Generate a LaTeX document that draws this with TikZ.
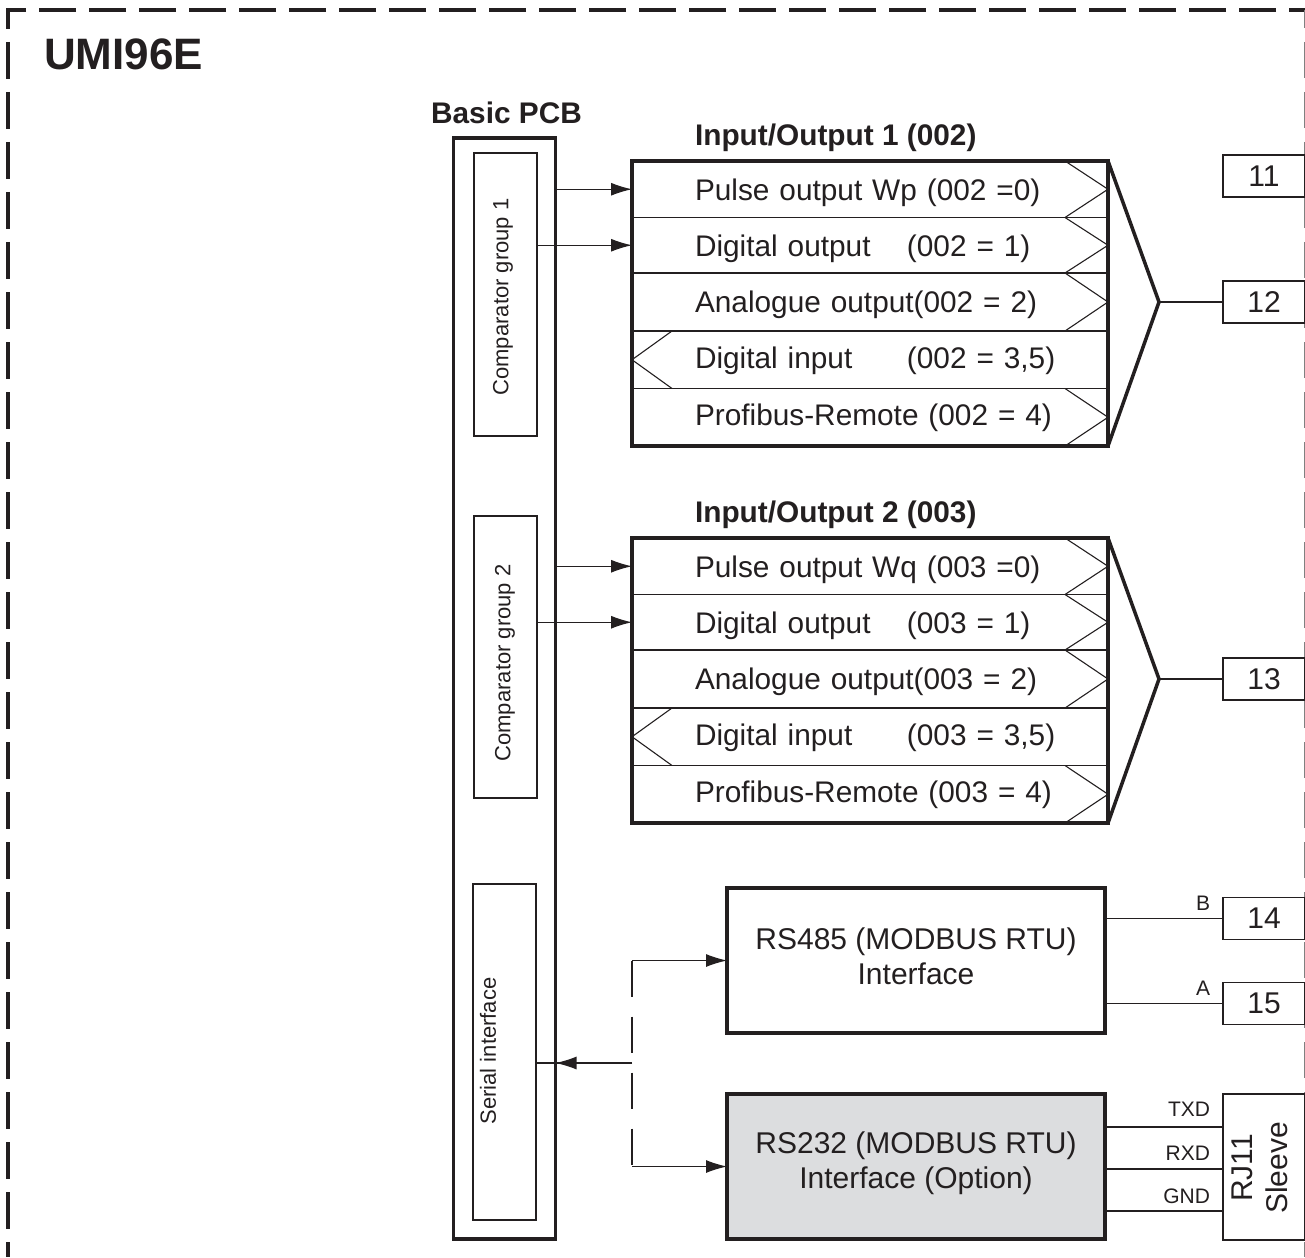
\documentclass[tikz,border=0pt]{standalone}
\usepackage{fontspec}
\setmainfont{Liberation Sans}
\usetikzlibrary{arrows.meta,positioning}
\definecolor{ink}{HTML}{231F20}
\definecolor{optgray}{HTML}{DCDDDF}
\newcommand{\rowtxt}[2]{\hspace*{63pt}\makebox[212pt][l]{#1}#2}
\begin{document}
\begin{tikzpicture}[x=1pt,y=-1pt,>={Latex[length=21pt,width=13pt]},node distance=0pt,color=ink,text=ink,
every node/.style={outer sep=0pt},
big/.style={font=\fontsize{30}{35}\selectfont},
small/.style={font=\fontsize{22}{26}\selectfont},
heavy/.style={line width=3.5pt},
thinline/.style={line width=1.1pt},
rowbox/.style={draw,thinline,font=\fontsize{29.8}{35}\selectfont,align=left,text width=476pt,inner xsep=0pt,inner ysep=0pt,anchor=north},
inbox/.style={draw,thinline,small,minimum width=63pt},
ifbox/.style={draw,heavy,big,align=center,minimum width=378pt,minimum height=145pt},
terminal/.style={draw,thinline,big,minimum width=82pt,minimum height=42pt},
title/.style={font=\fontsize{29.8}{36}\selectfont\bfseries,inner sep=0pt},
wirelabel/.style={font=\fontsize{21}{25}\selectfont,anchor=east,inner sep=0pt}]
\useasboundingbox (0,0) rectangle (1305,1257);
% frame
\draw[line width=3.5pt,dash pattern=on 37pt off 13pt,dash phase=21pt] (1305,10)--(8,10)--(8,1257);
\draw[thinline,gray,dash pattern=on 36pt off 14pt,dash phase=18pt] (1304.5,10)--(1304.5,1257);
\node[font=\fontsize{44}{53}\selectfont\bfseries,anchor=base west,inner sep=0pt] (umi) at (44,70) {UMI96E};
% basic board
\node[draw,heavy,minimum width=102pt,minimum height=1101pt] (pcb) at (504.5,688.5) {};
\node[title,anchor=base] (pcbtitle) at (506.5,124) {Basic PCB};
\node[inbox,minimum height=283pt] (comp1) at (505.5,294.5) {};
\node[inbox,minimum height=282pt] (comp2) at (505.5,657) {};
\node[inbox,minimum height=336pt] (serial) at (504.5,1052) {};
\node[small,rotate=90] (comp1text) at (503,297) {Comparator group 1};
\node[small,rotate=90] (comp2text) at (505,663) {Comparator group 2};
\node[small,rotate=90] (serialtext) at (488,1051) {Serial interface};
% input/output blocks
\foreach \n/\y/\c/\w in {1/161/002/Wp,2/538/003/Wq}{
\node[rowbox,minimum height=56.5pt,text height=28pt] (r\n1) at (870,\y) {\rowtxt{Pulse output \w{} (\c{} =0)}{}};
\node[rowbox,minimum height=55.5pt,text height=28pt,below=of r\n1] (r\n2) {\rowtxt{Digital output}{(\c{} = 1)}};
\node[rowbox,minimum height=58pt,text height=28pt,below=of r\n2] (r\n3) {\rowtxt{Analogue output(\c{} = 2)}{}};
\node[rowbox,minimum height=57.5pt,text height=24pt,below=of r\n3] (r\n4) {\rowtxt{Digital input}{(\c{} = 3,5)}};
\node[rowbox,minimum height=57.5pt,text height=22pt,below=of r\n4] (r\n5) {\rowtxt{Profibus-Remote (\c{} = 4)}{}};
\node[title,anchor=south west,above right=9pt and 63pt of r\n1.north west] (io\n) {Input/Output \n{} (\c)};
\draw[heavy] (r\n1.north west) rectangle (r\n5.south east);
\foreach \r in {1,2,3,5}{\draw[thinline] ([xshift=-43pt]r\n\r.north east)--(r\n\r.east)--([xshift=-43pt]r\n\r.south east);}
\draw[thinline] ([xshift=40pt]r\n4.north west)--(r\n4.west)--([xshift=40pt]r\n4.south west);
\coordinate (tip\n) at ([xshift=51pt]r\n3.east);
\draw[heavy,line join=miter] (r\n1.north east)--(tip\n)--(r\n5.south east);
\draw[thinline,->] (pcb.east |- r\n1.west)--(r\n1.west);
\draw[thinline,->] (comp\n.east |- r\n2.west)--(r\n2.west);
}
% serial interfaces
\node[ifbox,text depth=8pt] (rs485) at (916,960.5) {RS485 (MODBUS RTU)\\Interface};
\node[ifbox,fill=optgray,text depth=12pt] (rs232) at (916,1166.5) {RS232 (MODBUS RTU)\\Interface (Option)};
\coordinate (bus) at (632,1063);
\draw[thinline,dash pattern=on 36pt off 20pt] (bus |- rs485.west)--(bus |- rs232.west);
\draw[thinline,->] (bus |- rs485.west)--(rs485.west);
\draw[thinline,->] (bus |- rs232.west)--(rs232.west);
\draw[thinline] (bus)--(serial.east |- bus);
\draw[thinline,->] (bus)--(pcb.east |- bus);
% terminals
\foreach \t/\y in {11/176,12/302,13/679,14/918.5,15/1003.5}{\node[terminal] (t\t) at (1264,\y) {\t};}
\node[terminal,minimum height=146pt] (rj) at (1264,1167) {};
\node[big,rotate=90,align=center,inner sep=0pt] (rjtext) at (1260,1168) {RJ11\\Sleeve};
\draw[thinline] (tip1)--(t12.west);
\draw[thinline] (tip2)--(t13.west);
\draw[thinline] (rs485.east |- t14.west)--(t14.west);
\draw[thinline] (rs485.east |- t15.west)--(t15.west);
\node[wirelabel] (lb) at (1210,903) {B};
\node[wirelabel] (la) at (1210,988) {A};
\foreach \s/\y/\l in {TXD/1127/1109,RXD/1169/1153,GND/1211/1196}{
\coordinate (w\s) at (rj.west |- 0,\y);
\draw[thinline] (rs232.east |- w\s)--(w\s);
\node[wirelabel] (l\s) at (1210,\l) {\s};
}
\end{tikzpicture}
\end{document}
